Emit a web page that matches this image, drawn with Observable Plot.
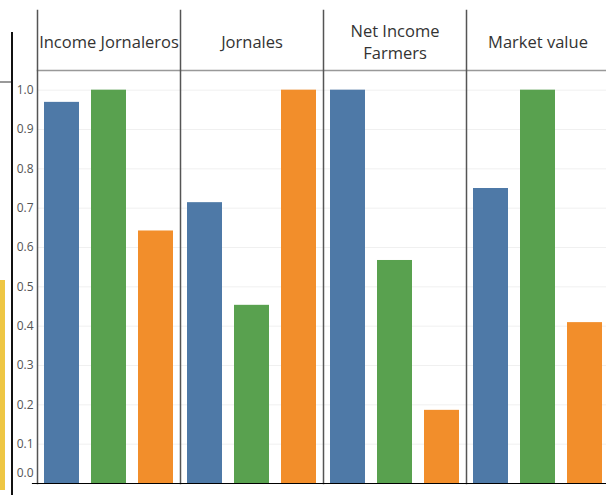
<!DOCTYPE html>
<html><head><meta charset="utf-8">
<script src="https://cdn.jsdelivr.net/npm/d3@7"></script>
<script src="https://cdn.jsdelivr.net/npm/@observablehq/plot@0.6"></script>
<style>
html,body{margin:0;padding:0;overflow:hidden;background:#fff;width:606px;height:495px}
#wrap{position:relative;width:606px;height:495px;overflow:hidden}
.deco{position:absolute}
</style></head><body><div id="wrap"></div>
<script>
// categories (facets) and series
const measures = ["Income Jornaleros", "Jornales", "Net Income Farmers", "Market value"];
const series = ["Series 1", "Series 2", "Series 3"];
const colors = ["#4e79a7", "#59a14f", "#f28e2b"];
// values per facet, in series order
const incomeJornaleros = [0.969, 1.0, 0.642];
const jornales = [0.714, 0.453, 1.0];
const netIncomeFarmers = [1.0, 0.567, 0.186];
const marketValue = [0.75, 1.0, 0.409];
const yTicks = [0.1, 0.2, 0.3, 0.4, 0.5, 0.6, 0.7, 0.8, 0.9, 1.0];
const headerLabels = {"Net Income Farmers": "Net Income\nFarmers"};

const valuesByMeasure = [incomeJornaleros, jornales, netIncomeFarmers, marketValue];
const data = [];
measures.forEach((m, i) => series.forEach((s, j) => data.push({measure: m, series: s, value: valuesByMeasure[i][j]})));

const chart = Plot.plot({
  width: 609,
  height: 495,
  marginTop: 70,
  marginBottom: 12,
  marginLeft: 37,
  marginRight: 0,
  style: {fontFamily: "Open Sans", maxWidth: "none", background: "#fff"},
  fx: {domain: measures, padding: 0},
  x: {domain: series, paddingInner: 0.245, paddingOuter: 0.1225, axis: null},
  y: {domain: [0, 1.05]},
  color: {domain: series, range: colors},
  marks: [
    Plot.gridY(yTicks, {stroke: "#f0f0f0", strokeOpacity: 1}),
    Plot.barY(data, {fx: "measure", x: "series", y: "value", fill: "series"}),
    Plot.frame({anchor: "top", stroke: "#999", strokeWidth: 1.5}),
    Plot.frame({anchor: "left", insetTop: -60, stroke: "#555", strokeWidth: 1.5}),
    Plot.frame({anchor: "bottom", insetLeft: -5, stroke: "#000", strokeWidth: 1.2}),
    Plot.axisY(yTicks, {tickSize: 0, tickPadding: 4, tickFormat: d3.format(".1f"), fontSize: 12, fill: "#555", label: null}),
    Plot.axisY([0], {tickSize: 0, tickPadding: 4, tickFormat: d3.format(".1f"), fontSize: 12, fill: "#555", label: null, dy: -10}),
    Plot.axisFx({anchor: "top", tickSize: 0, tickPadding: 30, lineAnchor: "middle", lineHeight: 1.35, fontSize: 16.5, fill: "#333", label: null, tickFormat: d => headerLabels[d] ?? d})
  ]
});
const wrap = document.getElementById("wrap");
wrap.appendChild(chart);
function deco(l, t, w, h, c) {
  const d = document.createElement("div");
  d.className = "deco";
  Object.assign(d.style, {left: l + "px", top: t + "px", width: w + "px", height: h + "px", background: c});
  wrap.appendChild(d);
}
deco(0, 280, 5, 210, "#eec643");
deco(11, 32, 1.5, 463, "#111");
deco(0, 81, 11, 1.5, "#999");
</script></body></html>
